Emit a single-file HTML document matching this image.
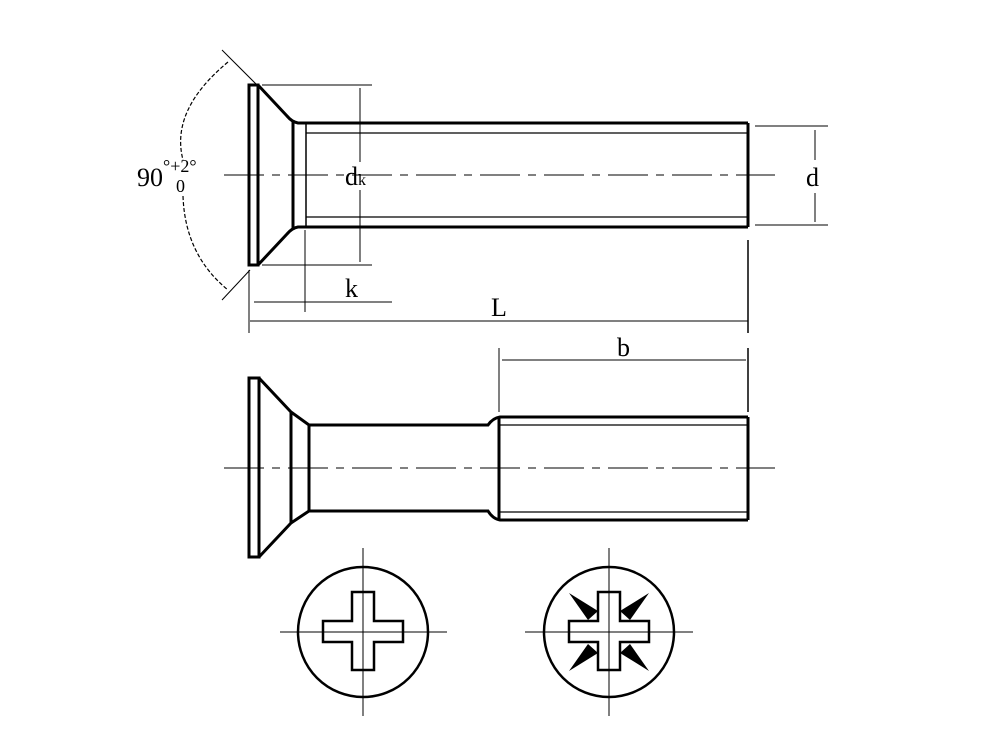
<!DOCTYPE html>
<html><head><meta charset="utf-8"><style>html,body{margin:0;padding:0;background:#fff}svg{display:block}</style></head>
<body>
<svg width="1000" height="750" viewBox="0 0 1000 750" xmlns="http://www.w3.org/2000/svg" font-family="Liberation Serif, serif">
<g stroke="#000" fill="none">
<!-- TOP VIEW -->
<rect x="249" y="85" width="9" height="180" stroke-width="3"/>
<path d="M258 85 L287 116 Q292 122 298 123 L748 123" stroke-width="3"/>
<path d="M258 265 L287 234 Q292 228 298 227 L748 227" stroke-width="3"/>
<line x1="293" y1="120" x2="293" y2="230" stroke-width="3"/>
<line x1="306" y1="123" x2="306" y2="227" stroke-width="1.5"/>
<line x1="306" y1="133" x2="748" y2="133" stroke-width="1.2"/>
<line x1="306" y1="217" x2="748" y2="217" stroke-width="1.2"/>
<line x1="748" y1="123" x2="748" y2="227" stroke-width="3"/>
<line x1="224" y1="175" x2="775" y2="175" stroke-width="1" stroke-dasharray="40,8,8,8"/>
<!-- dk -->
<line x1="262" y1="85" x2="372" y2="85" stroke-width="1"/>
<line x1="262" y1="265" x2="372" y2="265" stroke-width="1"/>
<line x1="360" y1="88" x2="360" y2="162" stroke-width="1"/>
<line x1="360" y1="190" x2="360" y2="262" stroke-width="1"/>
<!-- d -->
<line x1="755" y1="126" x2="828" y2="126" stroke-width="1"/>
<line x1="755" y1="225" x2="828" y2="225" stroke-width="1"/>
<line x1="815" y1="130" x2="815" y2="160" stroke-width="1"/>
<line x1="815" y1="193" x2="815" y2="222" stroke-width="1"/>
<!-- angle -->
<line x1="222" y1="50" x2="258" y2="86" stroke-width="1"/>
<line x1="222" y1="300" x2="250" y2="270" stroke-width="1"/>
<path d="M228 62 Q170 110 183 160" stroke-width="1.2" stroke-dasharray="4,2"/>
<path d="M183 196 Q185 255 228 290" stroke-width="1.2" stroke-dasharray="4,2"/>
<!-- k, L -->
<line x1="305" y1="230" x2="305" y2="312" stroke-width="1"/>
<line x1="249" y1="270" x2="249" y2="333" stroke-width="1"/>
<line x1="254" y1="302" x2="305" y2="302" stroke-width="1"/>
<line x1="305" y1="302" x2="392" y2="302" stroke-width="1"/>
<line x1="250" y1="321" x2="748" y2="321" stroke-width="1"/>
<line x1="748" y1="240" x2="748" y2="333" stroke-width="1.5"/>
<!-- b -->
<line x1="499" y1="348" x2="499" y2="412" stroke-width="1"/>
<line x1="748" y1="348" x2="748" y2="412" stroke-width="1.5"/>
<line x1="502" y1="360" x2="746" y2="360" stroke-width="1"/>
<!-- BOTTOM VIEW -->
<rect x="249" y="378" width="10" height="179" stroke-width="3"/>
<path d="M259 378 L291 412 L309 425 L488 425 Q493 418 500 417 L748 417" stroke-width="3"/>
<path d="M259 557 L291 523 L309 511 L488 511 Q493 519 500 520 L748 520" stroke-width="3"/>
<line x1="291" y1="412" x2="291" y2="523" stroke-width="3"/>
<line x1="309" y1="425" x2="309" y2="511" stroke-width="3"/>
<line x1="499" y1="417" x2="499" y2="520" stroke-width="3"/>
<line x1="500" y1="425" x2="748" y2="425" stroke-width="1.2"/>
<line x1="500" y1="512" x2="748" y2="512" stroke-width="1.2"/>
<line x1="748" y1="417" x2="748" y2="520" stroke-width="3"/>
<line x1="224" y1="468" x2="775" y2="468" stroke-width="1" stroke-dasharray="40,8,8,8"/>
<!-- HEADS -->
<circle cx="363" cy="632" r="65" stroke-width="2.5"/>
<path d="M352 592 H374 V621 H403 V642 H374 V670 H352 V642 H323 V621 H352 Z" stroke-width="2.5"/>
<line x1="363" y1="548" x2="363" y2="716" stroke-width="1"/>
<line x1="280" y1="632" x2="447" y2="632" stroke-width="1"/>
<circle cx="609" cy="632" r="65" stroke-width="2.5"/>
<path d="M598 592 H620 V621 H649 V642 H620 V670 H598 V642 H569 V621 H598 Z" stroke-width="2.5"/>
<line x1="609" y1="548" x2="609" y2="716" stroke-width="1"/>
<line x1="525" y1="632" x2="693" y2="632" stroke-width="1"/>
</g>
<g fill="#000">
<polygon points="569,593 598,611 588,620"/>
<polygon points="649,593 630,620 620,611"/>
<polygon points="569,671 588,644 598,653"/>
<polygon points="649,671 620,653 630,644"/>
</g>
<g font-size="26" fill="#000">
<text x="137" y="186">90</text>
<text x="163" y="172" font-size="18">°+2°</text>
<text x="176" y="192" font-size="18">0</text>
<text x="345" y="185">d<tspan font-size="16">k</tspan></text>
<text x="806" y="186">d</text>
<text x="345" y="297">k</text>
<text x="491" y="316">L</text>
<text x="617" y="356">b</text>
</g>
</svg>
</body></html>
